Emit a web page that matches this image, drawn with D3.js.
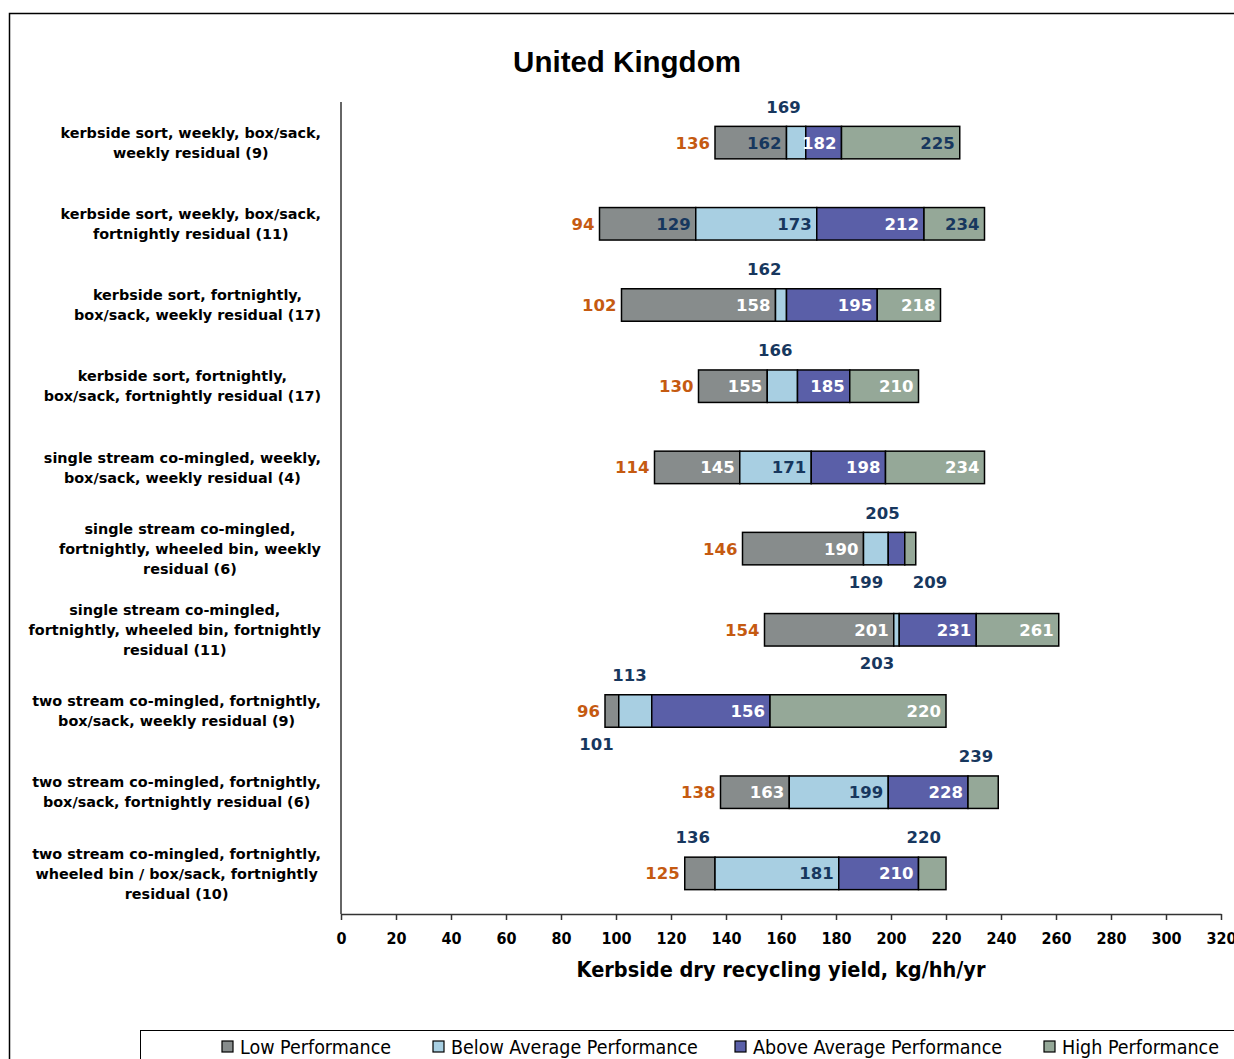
<!DOCTYPE html>
<html lang="en">
<head>
  <meta charset="UTF-8">
  <title>United Kingdom - kerbside dry recycling yield</title>
  <script src="https://d3js.org/d3.v7.min.js"></script>
  <style>
    body { margin: 0; background: white; }
    .catLabel { font-family: "DejaVu Sans", sans-serif; font-weight: bold; font-size: 14.4px; fill: #000; }
    .valLabel { font-family: "DejaVu Sans", sans-serif; font-weight: bold; font-size: 16.5px; }
    .minLabel { fill: #c55a11; }
    .tickText { font-family: "DejaVu Sans Condensed", "DejaVu Sans", sans-serif; font-weight: bold; font-size: 16px; }
    .legendText { font-family: "DejaVu Sans Condensed", "DejaVu Sans", sans-serif; font-size: 19.5px; }
  </style>
</head>
<body>
<div id="chart"></div>
<script>
  // categories (each split into the lines shown on the chart)
  const categories = [
    ["kerbside sort, weekly, box/sack,", "weekly residual (9)"],
    ["kerbside sort, weekly, box/sack,", "fortnightly residual (11)"],
    ["kerbside sort, fortnightly,", "box/sack, weekly residual (17)"],
    ["kerbside sort, fortnightly,", "box/sack, fortnightly residual (17)"],
    ["single stream co-mingled, weekly,", "box/sack, weekly residual (4)"],
    ["single stream co-mingled,", "fortnightly, wheeled bin, weekly", "residual (6)"],
    ["single stream co-mingled,", "fortnightly, wheeled bin, fortnightly", "residual (11)"],
    ["two stream co-mingled, fortnightly,", "box/sack, weekly residual (9)"],
    ["two stream co-mingled, fortnightly,", "box/sack, fortnightly residual (6)"],
    ["two stream co-mingled, fortnightly,", "wheeled bin / box/sack, fortnightly", "residual (10)"]
  ];

  // kg/hh/yr: minimum, lower quartile, median, upper quartile, maximum
  const minVals    = [136,  94, 102, 130, 114, 146, 154,  96, 138, 125];
  const q1Vals     = [162, 129, 158, 155, 145, 190, 201, 101, 163, 136];
  const medianVals = [169, 173, 162, 166, 171, 199, 203, 113, 199, 181];
  const q3Vals     = [182, 212, 195, 185, 198, 205, 231, 156, 228, 210];
  const maxVals    = [225, 234, 218, 210, 234, 209, 261, 220, 239, 220];

  const seriesNames = ["Low Performance", "Below Average Performance", "Above Average Performance", "High Performance"];
  const xTicks = [0, 20, 40, 60, 80, 100, 120, 140, 160, 180, 200, 220, 240, 260, 280, 300, 320];

  // how each end-of-segment label is placed (in / above / below / belowR) and coloured (n = navy, w = white)
  const labelStyle = [
    ["in-n", "above", "in-w", "in-n"],
    ["in-n", "in-n", "in-w", "in-n"],
    ["in-w", "above", "in-w", "in-w"],
    ["in-w", "above", "in-w", "in-w"],
    ["in-w", "in-n", "in-w", "in-w"],
    ["in-w", "below", "above", "belowR"],
    ["in-w", "below", "in-w", "in-w"],
    ["below", "above", "in-w", "in-w"],
    ["in-w", "in-n", "in-w", "above"],
    ["above", "in-n", "in-w", "above"]
  ];

  const colors = ["#878c8c", "#a8cfe2", "#5a5fa8", "#95a898"];
  const navy = "#17375e";

  const width = 1234, height = 1059;
  const svg = d3.select("#chart").append("svg")
    .attr("width", width)
    .attr("height", height);

  // outer chart border (runs off the right and bottom edge)
  svg.append("rect")
    .attr("x", 9.5).attr("y", 13.5)
    .attr("width", 1400).attr("height", 1200)
    .attr("fill", "none").attr("stroke", "#000").attr("stroke-width", 1.5);

  const x = d3.scaleLinear().domain([0, 320]).range([341, 1221]);
  const y = d3.scaleBand().domain(d3.range(categories.length))
    .range([102, 914]).paddingInner(0.6).paddingOuter(0.3);

  // title
  svg.append("text")
    .attr("x", 627).attr("y", 72)
    .attr("text-anchor", "middle")
    .style("font-family", "'Liberation Sans', Arial, sans-serif")
    .style("font-weight", "bold").style("font-size", "29.5px")
    .text("United Kingdom");

  // stacked floating bars
  const rows = categories.map((c, i) => {
    const bounds = [minVals[i], q1Vals[i], medianVals[i], q3Vals[i], maxVals[i]];
    return { i, bounds };
  });

  const rowG = svg.selectAll("g.row").data(rows).enter().append("g").attr("class", "row");

  rowG.selectAll("rect")
    .data(d => d3.range(4).map(k => ({ row: d.i, k, from: d.bounds[k], to: d.bounds[k + 1] })))
    .enter().append("rect")
    .attr("x", d => x(d.from))
    .attr("y", d => y(d.row))
    .attr("width", d => x(d.to) - x(d.from))
    .attr("height", y.bandwidth())
    .attr("fill", d => colors[d.k])
    .attr("stroke", "#000").attr("stroke-width", 1.5);

  // min labels in orange
  rowG.append("text")
    .attr("class", "valLabel minLabel")
    .attr("x", d => x(d.bounds[0]) - 5)
    .attr("y", d => y(d.i) + y.bandwidth() / 2)
    .attr("dy", "0.36em")
    .attr("text-anchor", "end")
    .text(d => d.bounds[0]);

  // labels at the end of each segment
  rowG.selectAll("text.seg")
    .data(d => d3.range(4).map(k => ({ row: d.i, k, v: d.bounds[k + 1], style: labelStyle[d.i][k] })))
    .enter().append("text")
    .attr("class", "valLabel seg")
    .attr("x", d => d.style === "belowR" ? x(d.v) - 3 : x(d.v) - 5)
    .attr("y", d => {
      const c = y(d.row) + y.bandwidth() / 2;
      if (d.style === "above") return c - 36;
      if (d.style === "below" || d.style === "belowR") return c + 33;
      return c;
    })
    .attr("dy", "0.36em")
    .attr("text-anchor", d => d.style === "belowR" ? "start" : "end")
    .attr("fill", d => d.style === "in-w" ? "#fff" : navy)
    .text(d => d.v);

  // y axis line
  svg.append("line")
    .attr("x1", 341).attr("x2", 341).attr("y1", 102).attr("y2", 914)
    .attr("stroke", "#333").attr("stroke-width", 1.5);

  // category labels: lines centred, block right-aligned
  categories.forEach((lines, i) => {
    const cy = y(i) + y.bandwidth() / 2;
    const g = svg.append("g");
    const t = g.selectAll("text").data(lines).enter().append("text")
      .attr("class", "catLabel")
      .attr("text-anchor", "middle")
      .attr("y", (d, j) => cy + (j - (lines.length - 1) / 2) * 20)
      .attr("dy", "0.36em")
      .text(d => d);
    const maxW = d3.max(t.nodes(), n => n.getComputedTextLength());
    t.attr("x", 321 - maxW / 2);
  });

  // x axis
  const xAxis = svg.append("g")
    .attr("transform", "translate(0,914)")
    .call(d3.axisBottom(x).tickValues(xTicks).tickSize(6).tickPadding(13).tickSizeOuter(0));
  xAxis.select(".domain").attr("stroke", "#333").attr("stroke-width", 1.5);
  xAxis.selectAll(".tick line").attr("stroke", "#333").attr("stroke-width", 1.5);
  xAxis.selectAll(".tick text").attr("class", "tickText").attr("fill", "#000");

  svg.append("text")
    .attr("x", 781).attr("y", 977)
    .attr("text-anchor", "middle")
    .attr("class", "tickText")
    .style("font-size", "21.5px")
    .text("Kerbside dry recycling yield, kg/hh/yr");

  // legend
  svg.append("rect")
    .attr("x", 140.5).attr("y", 1030.5)
    .attr("width", 1200).attr("height", 100)
    .attr("fill", "none").attr("stroke", "#000").attr("stroke-width", 1);

  const legendX = [222, 433, 735, 1044];
  const leg = svg.selectAll("g.legend").data(seriesNames).enter().append("g")
    .attr("transform", (d, i) => `translate(${legendX[i]},1041)`);
  leg.append("rect")
    .attr("width", 11).attr("height", 11)
    .attr("fill", (d, i) => colors[i])
    .attr("stroke", "#000").attr("stroke-width", 1.2);
  leg.append("text")
    .attr("class", "legendText")
    .attr("x", 18).attr("y", 6).attr("dy", "0.36em")
    .text(d => d);
</script>
</body>
</html>
